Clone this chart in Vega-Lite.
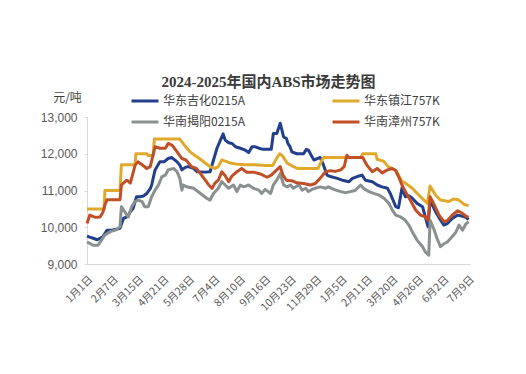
{
"$schema":"https://vega.github.io/schema/vega-lite/v6.json",
"width":383,"height":147,
"autosize":{"type":"none"},
"padding":{"left":87,"top":117,"right":56,"bottom":110},
"background":"white",
"config":{"view":{"stroke":null},"font":"Noto Sans CJK SC"},
"title":{"text":"2024-2025年国内ABS市场走势图","font":"Liberation Serif, Noto Sans CJK SC","fontSize":15,"fontWeight":"bold","color":"#3a3a3a","anchor":"middle","frame":"group","dx":-10,"offset":-4},
"data":{"values":[
{"series":"华东吉化0215A","date":"2024-01-01","price":9760},
{"series":"华东吉化0215A","date":"2024-01-05","price":9730},
{"series":"华东吉化0215A","date":"2024-01-10","price":9700},
{"series":"华东吉化0215A","date":"2024-01-16","price":9660},
{"series":"华东吉化0215A","date":"2024-01-20","price":9700},
{"series":"华东吉化0215A","date":"2024-01-24","price":9740},
{"series":"华东吉化0215A","date":"2024-01-30","price":9920},
{"series":"华东吉化0215A","date":"2024-02-06","price":9920},
{"series":"华东吉化0215A","date":"2024-02-14","price":9950},
{"series":"华东吉化0215A","date":"2024-02-18","price":9970},
{"series":"华东吉化0215A","date":"2024-02-23","price":10240},
{"series":"华东吉化0215A","date":"2024-02-28","price":10280},
{"series":"华东吉化0215A","date":"2024-03-04","price":10420},
{"series":"华东吉化0215A","date":"2024-03-08","price":10510},
{"series":"华东吉化0215A","date":"2024-03-13","price":10830},
{"series":"华东吉化0215A","date":"2024-03-18","price":10830},
{"series":"华东吉化0215A","date":"2024-03-23","price":10850},
{"series":"华东吉化0215A","date":"2024-03-28","price":10920},
{"series":"华东吉化0215A","date":"2024-04-02","price":11050},
{"series":"华东吉化0215A","date":"2024-04-04","price":11150},
{"series":"华东吉化0215A","date":"2024-04-09","price":11560},
{"series":"华东吉化0215A","date":"2024-04-16","price":11780},
{"series":"华东吉化0215A","date":"2024-04-22","price":11780},
{"series":"华东吉化0215A","date":"2024-04-28","price":11870},
{"series":"华东吉化0215A","date":"2024-05-03","price":11900},
{"series":"华东吉化0215A","date":"2024-05-11","price":11780},
{"series":"华东吉化0215A","date":"2024-05-15","price":11690},
{"series":"华东吉化0215A","date":"2024-05-18","price":11560},
{"series":"华东吉化0215A","date":"2024-05-23","price":11630},
{"series":"华东吉化0215A","date":"2024-05-27","price":11650},
{"series":"华东吉化0215A","date":"2024-06-04","price":11600},
{"series":"华东吉化0215A","date":"2024-06-09","price":11510},
{"series":"华东吉化0215A","date":"2024-06-21","price":11500},
{"series":"华东吉化0215A","date":"2024-06-28","price":11510},
{"series":"华东吉化0215A","date":"2024-07-03","price":11830},
{"series":"华东吉化0215A","date":"2024-07-08","price":12150},
{"series":"华东吉化0215A","date":"2024-07-13","price":12370},
{"series":"华东吉化0215A","date":"2024-07-17","price":12540},
{"series":"华东吉化0215A","date":"2024-07-20","price":12370},
{"series":"华东吉化0215A","date":"2024-07-25","price":12300},
{"series":"华东吉化0215A","date":"2024-07-30","price":12280},
{"series":"华东吉化0215A","date":"2024-08-04","price":12190},
{"series":"华东吉化0215A","date":"2024-08-11","price":12150},
{"series":"华东吉化0215A","date":"2024-08-18","price":12100},
{"series":"华东吉化0215A","date":"2024-08-23","price":12030},
{"series":"华东吉化0215A","date":"2024-08-28","price":12190},
{"series":"华东吉化0215A","date":"2024-09-02","price":12190},
{"series":"华东吉化0215A","date":"2024-09-07","price":12150},
{"series":"华东吉化0215A","date":"2024-09-13","price":12120},
{"series":"华东吉化0215A","date":"2024-09-25","price":12120},
{"series":"华东吉化0215A","date":"2024-09-28","price":12550},
{"series":"华东吉化0215A","date":"2024-10-03","price":12550},
{"series":"华东吉化0215A","date":"2024-10-08","price":12830},
{"series":"华东吉化0215A","date":"2024-10-11","price":12600},
{"series":"华东吉化0215A","date":"2024-10-13","price":12450},
{"series":"华东吉化0215A","date":"2024-10-17","price":12420},
{"series":"华东吉化0215A","date":"2024-10-19","price":12280},
{"series":"华东吉化0215A","date":"2024-10-22","price":12200},
{"series":"华东吉化0215A","date":"2024-10-25","price":12050},
{"series":"华东吉化0215A","date":"2024-11-01","price":12000},
{"series":"华东吉化0215A","date":"2024-11-11","price":12000},
{"series":"华东吉化0215A","date":"2024-11-15","price":12120},
{"series":"华东吉化0215A","date":"2024-11-18","price":12100},
{"series":"华东吉化0215A","date":"2024-11-22","price":11960},
{"series":"华东吉化0215A","date":"2024-11-26","price":11830},
{"series":"华东吉化0215A","date":"2024-12-01","price":11870},
{"series":"华东吉化0215A","date":"2024-12-05","price":11900},
{"series":"华东吉化0215A","date":"2024-12-10","price":11690},
{"series":"华东吉化0215A","date":"2024-12-15","price":11420},
{"series":"华东吉化0215A","date":"2024-12-20","price":11380},
{"series":"华东吉化0215A","date":"2024-12-30","price":11330},
{"series":"华东吉化0215A","date":"2025-01-08","price":11270},
{"series":"华东吉化0215A","date":"2025-01-16","price":11240},
{"series":"华东吉化0215A","date":"2025-01-21","price":11330},
{"series":"华东吉化0215A","date":"2025-01-28","price":11380},
{"series":"华东吉化0215A","date":"2025-02-04","price":11420},
{"series":"华东吉化0215A","date":"2025-02-09","price":11280},
{"series":"华东吉化0215A","date":"2025-02-19","price":11240},
{"series":"华东吉化0215A","date":"2025-02-26","price":11150},
{"series":"华东吉化0215A","date":"2025-03-05","price":11100},
{"series":"华东吉化0215A","date":"2025-03-13","price":11060},
{"series":"华东吉化0215A","date":"2025-03-17","price":10920},
{"series":"华东吉化0215A","date":"2025-03-25","price":10560},
{"series":"华东吉化0215A","date":"2025-03-29","price":10530},
{"series":"华东吉化0215A","date":"2025-04-03","price":11060},
{"series":"华东吉化0215A","date":"2025-04-08","price":10830},
{"series":"华东吉化0215A","date":"2025-04-13","price":10860},
{"series":"华东吉化0215A","date":"2025-04-18","price":10790},
{"series":"华东吉化0215A","date":"2025-04-25","price":10650},
{"series":"华东吉化0215A","date":"2025-05-03","price":10560},
{"series":"华东吉化0215A","date":"2025-05-07","price":10280},
{"series":"华东吉化0215A","date":"2025-05-11","price":10010},
{"series":"华东吉化0215A","date":"2025-05-14","price":10740},
{"series":"华东吉化0215A","date":"2025-05-22","price":10420},
{"series":"华东吉化0215A","date":"2025-05-29","price":10200},
{"series":"华东吉化0215A","date":"2025-06-03","price":10060},
{"series":"华东吉化0215A","date":"2025-06-08","price":10100},
{"series":"华东吉化0215A","date":"2025-06-15","price":10240},
{"series":"华东吉化0215A","date":"2025-06-23","price":10330},
{"series":"华东吉化0215A","date":"2025-06-30","price":10300},
{"series":"华东吉化0215A","date":"2025-07-05","price":10270},
{"series":"华东吉化0215A","date":"2025-07-09","price":10210},
{"series":"华东镇江757K","date":"2024-01-01","price":10500},
{"series":"华东镇江757K","date":"2024-01-26","price":10500},
{"series":"华东镇江757K","date":"2024-01-27","price":11000},
{"series":"华东镇江757K","date":"2024-02-18","price":11000},
{"series":"华东镇江757K","date":"2024-02-20","price":11700},
{"series":"华东镇江757K","date":"2024-03-11","price":11700},
{"series":"华东镇江757K","date":"2024-03-12","price":12000},
{"series":"华东镇江757K","date":"2024-03-28","price":12000},
{"series":"华东镇江757K","date":"2024-03-30","price":11950},
{"series":"华东镇江757K","date":"2024-04-06","price":11950},
{"series":"华东镇江757K","date":"2024-04-08","price":12400},
{"series":"华东镇江757K","date":"2024-05-15","price":12400},
{"series":"华东镇江757K","date":"2024-05-23","price":12200},
{"series":"华东镇江757K","date":"2024-05-30","price":12050},
{"series":"华东镇江757K","date":"2024-06-06","price":11950},
{"series":"华东镇江757K","date":"2024-06-14","price":11850},
{"series":"华东镇江757K","date":"2024-06-21","price":11750},
{"series":"华东镇江757K","date":"2024-06-28","price":11650},
{"series":"华东镇江757K","date":"2024-07-05","price":11600},
{"series":"华东镇江757K","date":"2024-07-10","price":11650},
{"series":"华东镇江757K","date":"2024-07-15","price":11830},
{"series":"华东镇江757K","date":"2024-07-20","price":11800},
{"series":"华东镇江757K","date":"2024-07-27","price":11750},
{"series":"华东镇江757K","date":"2024-08-04","price":11720},
{"series":"华东镇江757K","date":"2024-08-18","price":11700},
{"series":"华东镇江757K","date":"2024-09-02","price":11700},
{"series":"华东镇江757K","date":"2024-09-16","price":11680},
{"series":"华东镇江757K","date":"2024-09-27","price":11680},
{"series":"华东镇江757K","date":"2024-10-02","price":11850},
{"series":"华东镇江757K","date":"2024-10-07","price":12000},
{"series":"华东镇江757K","date":"2024-10-11","price":11950},
{"series":"华东镇江757K","date":"2024-10-18","price":11750},
{"series":"华东镇江757K","date":"2024-10-27","price":11650},
{"series":"华东镇江757K","date":"2024-11-02","price":11600},
{"series":"华东镇江757K","date":"2024-12-02","price":11600},
{"series":"华东镇江757K","date":"2024-12-07","price":11800},
{"series":"华东镇江757K","date":"2024-12-10","price":11900},
{"series":"华东镇江757K","date":"2025-02-02","price":11900},
{"series":"华东镇江757K","date":"2025-02-05","price":12000},
{"series":"华东镇江757K","date":"2025-02-24","price":12000},
{"series":"华东镇江757K","date":"2025-02-26","price":11850},
{"series":"华东镇江757K","date":"2025-03-07","price":11800},
{"series":"华东镇江757K","date":"2025-03-14","price":11650},
{"series":"华东镇江757K","date":"2025-03-25","price":11550},
{"series":"华东镇江757K","date":"2025-04-03","price":11250},
{"series":"华东镇江757K","date":"2025-04-08","price":11200},
{"series":"华东镇江757K","date":"2025-04-18","price":11060},
{"series":"华东镇江757K","date":"2025-04-30","price":10830},
{"series":"华东镇江757K","date":"2025-05-10","price":10650},
{"series":"华东镇江757K","date":"2025-05-14","price":11120},
{"series":"华东镇江757K","date":"2025-05-22","price":10870},
{"series":"华东镇江757K","date":"2025-05-29","price":10740},
{"series":"华东镇江757K","date":"2025-06-10","price":10700},
{"series":"华东镇江757K","date":"2025-06-17","price":10770},
{"series":"华东镇江757K","date":"2025-06-24","price":10750},
{"series":"华东镇江757K","date":"2025-07-02","price":10630},
{"series":"华东镇江757K","date":"2025-07-09","price":10580},
{"series":"华南揭阳0215A","date":"2024-01-01","price":9600},
{"series":"华南揭阳0215A","date":"2024-01-05","price":9560},
{"series":"华南揭阳0215A","date":"2024-01-10","price":9510},
{"series":"华南揭阳0215A","date":"2024-01-17","price":9510},
{"series":"华南揭阳0215A","date":"2024-01-22","price":9650},
{"series":"华南揭阳0215A","date":"2024-01-27","price":9790},
{"series":"华南揭阳0215A","date":"2024-02-04","price":9880},
{"series":"华南揭阳0215A","date":"2024-02-11","price":9920},
{"series":"华南揭阳0215A","date":"2024-02-18","price":10010},
{"series":"华南揭阳0215A","date":"2024-02-20","price":10560},
{"series":"华南揭阳0215A","date":"2024-02-25","price":10420},
{"series":"华南揭阳0215A","date":"2024-03-01","price":10280},
{"series":"华南揭阳0215A","date":"2024-03-06","price":10560},
{"series":"华南揭阳0215A","date":"2024-03-11","price":10700},
{"series":"华南揭阳0215A","date":"2024-03-15","price":10740},
{"series":"华南揭阳0215A","date":"2024-03-21","price":10700},
{"series":"华南揭阳0215A","date":"2024-03-25","price":10560},
{"series":"华南揭阳0215A","date":"2024-03-30","price":10560},
{"series":"华南揭阳0215A","date":"2024-04-04","price":10830},
{"series":"华南揭阳0215A","date":"2024-04-09","price":11010},
{"series":"华南揭阳0215A","date":"2024-04-14","price":11150},
{"series":"华南揭阳0215A","date":"2024-04-19","price":11380},
{"series":"华南揭阳0215A","date":"2024-04-24","price":11420},
{"series":"华南揭阳0215A","date":"2024-04-28","price":11560},
{"series":"华南揭阳0215A","date":"2024-05-06","price":11600},
{"series":"华南揭阳0215A","date":"2024-05-11","price":11510},
{"series":"华南揭阳0215A","date":"2024-05-15","price":11330},
{"series":"华南揭阳0215A","date":"2024-05-18","price":11010},
{"series":"华南揭阳0215A","date":"2024-05-20","price":11150},
{"series":"华南揭阳0215A","date":"2024-05-25","price":11100},
{"series":"华南揭阳0215A","date":"2024-06-04","price":11060},
{"series":"华南揭阳0215A","date":"2024-06-14","price":10920},
{"series":"华南揭阳0215A","date":"2024-06-23","price":10790},
{"series":"华南揭阳0215A","date":"2024-06-28","price":10740},
{"series":"华南揭阳0215A","date":"2024-07-03","price":10920},
{"series":"华南揭阳0215A","date":"2024-07-10","price":11060},
{"series":"华南揭阳0215A","date":"2024-07-15","price":11240},
{"series":"华南揭阳0215A","date":"2024-07-20","price":11150},
{"series":"华南揭阳0215A","date":"2024-07-25","price":11060},
{"series":"华南揭阳0215A","date":"2024-08-01","price":11150},
{"series":"华南揭阳0215A","date":"2024-08-06","price":10970},
{"series":"华南揭阳0215A","date":"2024-08-11","price":11150},
{"series":"华南揭阳0215A","date":"2024-08-16","price":11100},
{"series":"华南揭阳0215A","date":"2024-08-23","price":11150},
{"series":"华南揭阳0215A","date":"2024-08-30","price":11060},
{"series":"华南揭阳0215A","date":"2024-09-07","price":11010},
{"series":"华南揭阳0215A","date":"2024-09-11","price":10920},
{"series":"华南揭阳0215A","date":"2024-09-16","price":11030},
{"series":"华南揭阳0215A","date":"2024-09-24","price":10920},
{"series":"华南揭阳0215A","date":"2024-09-28","price":11150},
{"series":"华南揭阳0215A","date":"2024-10-03","price":11280},
{"series":"华南揭阳0215A","date":"2024-10-08","price":11460},
{"series":"华南揭阳0215A","date":"2024-10-13","price":11150},
{"series":"华南揭阳0215A","date":"2024-10-18","price":11100},
{"series":"华南揭阳0215A","date":"2024-10-23","price":11150},
{"series":"华南揭阳0215A","date":"2024-10-27","price":11060},
{"series":"华南揭阳0215A","date":"2024-11-04","price":11150},
{"series":"华南揭阳0215A","date":"2024-11-09","price":11010},
{"series":"华南揭阳0215A","date":"2024-11-14","price":11060},
{"series":"华南揭阳0215A","date":"2024-11-18","price":10970},
{"series":"华南揭阳0215A","date":"2024-11-23","price":11030},
{"series":"华南揭阳0215A","date":"2024-11-28","price":11060},
{"series":"华南揭阳0215A","date":"2024-12-05","price":11100},
{"series":"华南揭阳0215A","date":"2024-12-13","price":11060},
{"series":"华南揭阳0215A","date":"2024-12-17","price":11100},
{"series":"华南揭阳0215A","date":"2024-12-25","price":11030},
{"series":"华南揭阳0215A","date":"2025-01-04","price":10970},
{"series":"华南揭阳0215A","date":"2025-01-11","price":10940},
{"series":"华南揭阳0215A","date":"2025-01-18","price":10970},
{"series":"华南揭阳0215A","date":"2025-01-25","price":11000},
{"series":"华南揭阳0215A","date":"2025-02-02","price":11150},
{"series":"华南揭阳0215A","date":"2025-02-06","price":11060},
{"series":"华南揭阳0215A","date":"2025-02-14","price":10970},
{"series":"华南揭阳0215A","date":"2025-02-21","price":10920},
{"series":"华南揭阳0215A","date":"2025-02-28","price":10880},
{"series":"华南揭阳0215A","date":"2025-03-08","price":10790},
{"series":"华南揭阳0215A","date":"2025-03-15","price":10650},
{"series":"华南揭阳0215A","date":"2025-03-20","price":10470},
{"series":"华南揭阳0215A","date":"2025-03-25","price":10330},
{"series":"华南揭阳0215A","date":"2025-04-01","price":10280},
{"series":"华南揭阳0215A","date":"2025-04-08","price":10190},
{"series":"华南揭阳0215A","date":"2025-04-13","price":10060},
{"series":"华南揭阳0215A","date":"2025-04-18","price":9880},
{"series":"华南揭阳0215A","date":"2025-04-25","price":9650},
{"series":"华南揭阳0215A","date":"2025-05-03","price":9470},
{"series":"华南揭阳0215A","date":"2025-05-07","price":9330},
{"series":"华南揭阳0215A","date":"2025-05-12","price":9240},
{"series":"华南揭阳0215A","date":"2025-05-14","price":10190},
{"series":"华南揭阳0215A","date":"2025-05-19","price":9970},
{"series":"华南揭阳0215A","date":"2025-05-24","price":9700},
{"series":"华南揭阳0215A","date":"2025-05-29","price":9470},
{"series":"华南揭阳0215A","date":"2025-06-03","price":9550},
{"series":"华南揭阳0215A","date":"2025-06-08","price":9600},
{"series":"华南揭阳0215A","date":"2025-06-15","price":9740},
{"series":"华南揭阳0215A","date":"2025-06-20","price":9850},
{"series":"华南揭阳0215A","date":"2025-06-25","price":10060},
{"series":"华南揭阳0215A","date":"2025-06-30","price":9920},
{"series":"华南揭阳0215A","date":"2025-07-05","price":10090},
{"series":"华南揭阳0215A","date":"2025-07-09","price":10150},
{"series":"华南漳州757K","date":"2024-01-01","price":10100},
{"series":"华南漳州757K","date":"2024-01-05","price":10330},
{"series":"华南漳州757K","date":"2024-01-13","price":10270},
{"series":"华南漳州757K","date":"2024-01-20","price":10280},
{"series":"华南漳州757K","date":"2024-01-24","price":10400},
{"series":"华南漳州757K","date":"2024-01-27","price":10600},
{"series":"华南漳州757K","date":"2024-01-30","price":10750},
{"series":"华南漳州757K","date":"2024-02-18","price":10750},
{"series":"华南漳州757K","date":"2024-02-20","price":11150},
{"series":"华南漳州757K","date":"2024-02-28","price":11280},
{"series":"华南漳州757K","date":"2024-03-04","price":11200},
{"series":"华南漳州757K","date":"2024-03-11","price":11690},
{"series":"华南漳州757K","date":"2024-03-15","price":11780},
{"series":"华南漳州757K","date":"2024-03-21","price":11700},
{"series":"华南漳州757K","date":"2024-03-28","price":11600},
{"series":"华南漳州757K","date":"2024-04-02","price":11650},
{"series":"华南漳州757K","date":"2024-04-09","price":12190},
{"series":"华南漳州757K","date":"2024-04-16","price":12150},
{"series":"华南漳州757K","date":"2024-04-24","price":12150},
{"series":"华南漳州757K","date":"2024-04-28","price":12280},
{"series":"华南漳州757K","date":"2024-05-04","price":12230},
{"series":"华南漳州757K","date":"2024-05-11","price":12050},
{"series":"华南漳州757K","date":"2024-05-18","price":11870},
{"series":"华南漳州757K","date":"2024-05-24","price":11830},
{"series":"华南漳州757K","date":"2024-06-01","price":11650},
{"series":"华南漳州757K","date":"2024-06-08","price":11600},
{"series":"华南漳州757K","date":"2024-06-14","price":11460},
{"series":"华南漳州757K","date":"2024-06-21","price":11280},
{"series":"华南漳州757K","date":"2024-06-26","price":11150},
{"series":"华南漳州757K","date":"2024-07-01","price":11060},
{"series":"华南漳州757K","date":"2024-07-05","price":11200},
{"series":"华南漳州757K","date":"2024-07-10","price":11280},
{"series":"华南漳州757K","date":"2024-07-15","price":11510},
{"series":"华南漳州757K","date":"2024-07-20","price":11400},
{"series":"华南漳州757K","date":"2024-07-25","price":11240},
{"series":"华南漳州757K","date":"2024-07-30","price":11400},
{"series":"华南漳州757K","date":"2024-08-06","price":11510},
{"series":"华南漳州757K","date":"2024-08-13","price":11600},
{"series":"华南漳州757K","date":"2024-08-20","price":11500},
{"series":"华南漳州757K","date":"2024-08-30","price":11500},
{"series":"华南漳州757K","date":"2024-09-09","price":11450},
{"series":"华南漳州757K","date":"2024-09-19","price":11360},
{"series":"华南漳州757K","date":"2024-09-25","price":11420},
{"series":"华南漳州757K","date":"2024-10-03","price":11560},
{"series":"华南漳州757K","date":"2024-10-08","price":11650},
{"series":"华南漳州757K","date":"2024-10-12","price":11420},
{"series":"华南漳州757K","date":"2024-10-17","price":11280},
{"series":"华南漳州757K","date":"2024-10-26","price":11260},
{"series":"华南漳州757K","date":"2024-11-01","price":11210},
{"series":"华南漳州757K","date":"2024-11-11","price":11190},
{"series":"华南漳州757K","date":"2024-11-21","price":11150},
{"series":"华南漳州757K","date":"2024-11-28","price":11190},
{"series":"华南漳州757K","date":"2024-12-05","price":11330},
{"series":"华南漳州757K","date":"2024-12-13","price":11510},
{"series":"华南漳州757K","date":"2024-12-20","price":11540},
{"series":"华南漳州757K","date":"2024-12-27","price":11520},
{"series":"华南漳州757K","date":"2025-01-04","price":11560},
{"series":"华南漳州757K","date":"2025-01-09","price":11650},
{"series":"华南漳州757K","date":"2025-01-13","price":11960},
{"series":"华南漳州757K","date":"2025-01-16","price":11900},
{"series":"华南漳州757K","date":"2025-02-05","price":11900},
{"series":"华南漳州757K","date":"2025-02-11","price":11690},
{"series":"华南漳州757K","date":"2025-02-19","price":11510},
{"series":"华南漳州757K","date":"2025-02-26","price":11600},
{"series":"华南漳州757K","date":"2025-03-05","price":11480},
{"series":"华南漳州757K","date":"2025-03-13","price":11560},
{"series":"华南漳州757K","date":"2025-03-20","price":11600},
{"series":"华南漳州757K","date":"2025-03-25","price":11540},
{"series":"华南漳州757K","date":"2025-03-29","price":11380},
{"series":"华南漳州757K","date":"2025-04-03","price":11150},
{"series":"华南漳州757K","date":"2025-04-08","price":10970},
{"series":"华南漳州757K","date":"2025-04-15","price":10740},
{"series":"华南漳州757K","date":"2025-04-23","price":10470},
{"series":"华南漳州757K","date":"2025-04-30","price":10330},
{"series":"华南漳州757K","date":"2025-05-07","price":10280},
{"series":"华南漳州757K","date":"2025-05-11","price":10190},
{"series":"华南漳州757K","date":"2025-05-14","price":10830},
{"series":"华南漳州757K","date":"2025-05-19","price":10650},
{"series":"华南漳州757K","date":"2025-05-27","price":10330},
{"series":"华南漳州757K","date":"2025-06-03","price":10150},
{"series":"华南漳州757K","date":"2025-06-08","price":10180},
{"series":"华南漳州757K","date":"2025-06-15","price":10330},
{"series":"华南漳州757K","date":"2025-06-23","price":10450},
{"series":"华南漳州757K","date":"2025-06-30","price":10380},
{"series":"华南漳州757K","date":"2025-07-05","price":10300},
{"series":"华南漳州757K","date":"2025-07-09","price":10270}
]},
"mark":{"type":"line","strokeWidth":3,"strokeJoin":"round"},
"encoding":{
"x":{"field":"date","type":"temporal",
"scale":{"type":"utc","domain":[{"year":2024,"month":1,"date":1,"utc":true},{"year":2025,"month":7,"date":11,"utc":true}]},
"axis":{"title":null,"grid":false,"ticks":false,"domainColor":"#d9d9d9","labelAngle":-45,"labelFontSize":10.5,"labelColor":"#595959","labelPadding":10,"labelOverlap":false,
"values":[{"year":2024,"month":1,"date":1,"utc":true},{"year":2024,"month":2,"date":7,"utc":true},{"year":2024,"month":3,"date":15,"utc":true},{"year":2024,"month":4,"date":21,"utc":true},{"year":2024,"month":5,"date":28,"utc":true},{"year":2024,"month":7,"date":4,"utc":true},{"year":2024,"month":8,"date":10,"utc":true},{"year":2024,"month":9,"date":16,"utc":true},{"year":2024,"month":10,"date":23,"utc":true},{"year":2024,"month":11,"date":29,"utc":true},{"year":2025,"month":1,"date":5,"utc":true},{"year":2025,"month":2,"date":11,"utc":true},{"year":2025,"month":3,"date":20,"utc":true},{"year":2025,"month":4,"date":26,"utc":true},{"year":2025,"month":6,"date":2,"utc":true},{"year":2025,"month":7,"date":9,"utc":true}],
"labelExpr":"utcFormat(datum.value, '%-m月%-d日')"}},
"y":{"field":"price","type":"quantitative",
"scale":{"domain":[9000,13000],"nice":false,"zero":false},
"axis":{"title":"元/吨","titleAngle":0,"titleX":-20,"titleY":-20,"titleAlign":"center","titleBaseline":"middle","titleFontSize":12,"titleFontWeight":"normal","titleColor":"#404040",
"values":[9000,10000,11000,12000,13000],"grid":false,"tickSize":3,"tickColor":"#d9d9d9","domainColor":"#d9d9d9","labelFontSize":12,"labelFont":"Liberation Sans","labelColor":"#595959","labelPadding":7}},
"color":{"field":"series","type":"nominal",
"scale":{"domain":["华东吉化0215A","华南揭阳0215A","华东镇江757K","华南漳州757K"],"range":["#213F8C","#8A9090","#E0A92C","#C14F26"]},
"legend":{"title":null,"orient":"none","legendX":43,"legendY":-31,"columns":2,"symbolType":"stroke","symbolSize":729,"symbolStrokeWidth":3,"labelFontSize":12,"labelColor":"#404040","labelOffset":3,"columnPadding":81,"rowPadding":-8}}
}
}
